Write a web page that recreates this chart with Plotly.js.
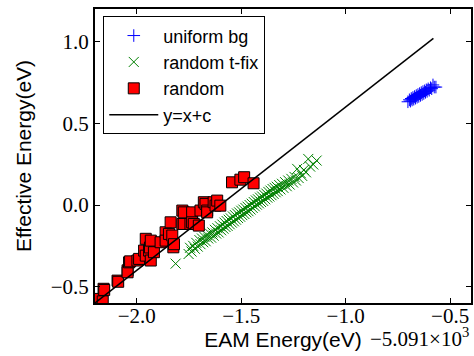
<!DOCTYPE html>
<html>
<head>
<meta charset="utf-8">
<script src="https://cdn.plot.ly/plotly-3.0.1.min.js"></script>
<style>html,body{margin:0;padding:0;background:#fff;}#chart{width:474px;height:356px;}</style>
</head>
<body>
<div id="chart"></div>
<script>
// uniform bg (blue +)
const uniformX = [-0.702,-0.695,-0.690,-0.686,-0.682,-0.678,-0.674,-0.670,-0.666,-0.662,-0.658,-0.654,-0.650,-0.646,-0.642,-0.638,-0.634,-0.630,-0.626,-0.622,-0.618,-0.614,-0.610,-0.605,-0.600,-0.594,-0.588,-0.582,-0.576,-0.568];
const uniformY = [0.632,0.644,0.636,0.652,0.643,0.658,0.648,0.664,0.654,0.670,0.660,0.676,0.665,0.682,0.671,0.688,0.677,0.694,0.683,0.699,0.690,0.705,0.696,0.711,0.703,0.718,0.712,0.735,0.722,0.722];

// random t-fix (green x)
const tfixX = [-1.814,-1.752,-1.745,-1.738,-1.730,-1.722,-1.715,-1.708,-1.700,-1.695,-1.688,-1.682,-1.676,-1.670,-1.664,-1.658,-1.650,-1.644,-1.638,-1.632,-1.626,-1.620,-1.614,-1.608,-1.602,-1.596,-1.590,-1.585,-1.580,-1.575,-1.570,-1.565,-1.560,-1.555,-1.550,-1.545,-1.540,-1.535,-1.530,-1.525,-1.520,-1.515,-1.510,-1.505,-1.500,-1.495,-1.490,-1.485,-1.480,-1.475,-1.470,-1.465,-1.460,-1.455,-1.450,-1.445,-1.440,-1.435,-1.430,-1.425,-1.420,-1.415,-1.410,-1.405,-1.400,-1.395,-1.390,-1.385,-1.380,-1.375,-1.370,-1.365,-1.360,-1.355,-1.350,-1.345,-1.340,-1.335,-1.330,-1.325,-1.318,-1.312,-1.305,-1.298,-1.290,-1.282,-1.275,-1.268,-1.260,-1.252,-1.245,-1.238,-1.232,-1.225,-1.215,-1.208,-1.200,-1.190,-1.179,-1.170,-1.155,-1.139];
const tfixY = [-0.359,-0.300,-0.262,-0.285,-0.250,-0.268,-0.232,-0.255,-0.215,-0.240,-0.205,-0.228,-0.196,-0.222,-0.185,-0.205,-0.175,-0.200,-0.168,-0.188,-0.152,-0.175,-0.142,-0.168,-0.130,-0.155,-0.120,-0.145,-0.108,-0.135,-0.098,-0.128,-0.090,-0.118,-0.082,-0.108,-0.070,-0.100,-0.062,-0.090,-0.052,-0.080,-0.045,-0.072,-0.035,-0.062,-0.028,-0.055,-0.018,-0.045,-0.010,-0.038,0.000,-0.028,0.008,-0.018,0.018,-0.008,0.028,0.002,0.035,0.010,0.045,0.018,0.052,0.025,0.062,0.035,0.070,0.045,0.080,0.052,0.088,0.060,0.098,0.068,0.105,0.078,0.112,0.085,0.122,0.095,0.130,0.105,0.140,0.115,0.150,0.125,0.160,0.138,0.172,0.150,0.221,0.165,0.195,0.178,0.215,0.200,0.282,0.235,0.248,0.272];

// random (red squares)
const randX = [-2.180,-2.163,-2.159,-2.156,-2.092,-2.089,-2.044,-2.044,-2.037,-2.032,-1.997,-1.989,-1.965,-1.957,-1.957,-1.941,-1.937,-1.933,-1.933,-1.918,-1.886,-1.862,-1.862,-1.846,-1.838,-1.830,-1.825,-1.822,-1.782,-1.782,-1.775,-1.775,-1.743,-1.735,-1.735,-1.727,-1.703,-1.695,-1.679,-1.671,-1.663,-1.663,-1.632,-1.623,-1.615,-1.600,-1.544,-1.504,-1.486,-1.441];
const randY = [-0.575,-0.590,-0.513,-0.520,-0.463,-0.470,-0.400,-0.412,-0.351,-0.345,-0.340,-0.330,-0.279,-0.207,-0.310,-0.279,-0.260,-0.218,-0.340,-0.289,-0.228,-0.167,-0.218,-0.177,-0.106,-0.187,-0.259,-0.240,-0.034,-0.116,-0.116,-0.045,-0.116,-0.045,-0.106,-0.116,-0.126,-0.034,0.017,0.007,-0.034,-0.045,0.017,-0.004,0.027,-0.004,0.139,0.155,0.170,0.133];

// reference line y = x + c
const lineX = [-2.2, -0.58];
const lineC = 1.6;
const lineY = lineX.map(v => v + lineC);

const tickVals = [-2.0, -1.5, -1.0, -0.5];
const tickText = ['\u22122.0', '\u22121.5', '\u22121.0', '\u22120.5'];
const yTickVals = [-0.5, 0.0, 0.5, 1.0];
const yTickText = ['\u22120.5', '0.0', '0.5', '1.0'];

const serif = 'Liberation Serif, Times New Roman, serif';
const sans = 'Liberation Sans, Arial, sans-serif';

const traces = [
  {x: uniformX, y: uniformY, name: 'uniform bg', type: 'scatter', mode: 'markers',
   marker: {symbol: 'cross-thin', size: 9, color: '#0000ff', line: {color: '#0000ff', width: 1}}},
  {x: tfixX, y: tfixY, name: 'random t-fix', type: 'scatter', mode: 'markers',
   marker: {symbol: 'x-thin', size: 10, color: '#008000', line: {color: '#008000', width: 1}}},
  {x: randX, y: randY, name: 'random', type: 'scatter', mode: 'markers',
   marker: {symbol: 'square', size: 11, color: '#ff0000', line: {color: '#000000', width: 1}}},
  {x: lineX, y: lineY, name: 'y=x+c', type: 'scatter', mode: 'lines',
   line: {color: '#000000', width: 1.5}}
];

const axisCommon = {
  showline: true, linecolor: '#000', linewidth: 2, mirror: 'ticks',
  ticks: 'inside', ticklen: 5, tickwidth: 1, tickcolor: '#000',
  showgrid: false, zeroline: false,
  tickfont: {family: serif, size: 21, color: '#000'}
};

const layout = {
  width: 474, height: 356,
  margin: {l: 95, r: 3, t: 9, b: 53},
  paper_bgcolor: '#fff', plot_bgcolor: '#fff',
  showlegend: true,
  legend: {x: 0.022, y: 0.975, xanchor: 'left', yanchor: 'top',
    bgcolor: '#fff', bordercolor: '#000', borderwidth: 1,
    font: {family: sans, size: 18, color: '#000'}, itemwidth: 49, tracegroupgap: 0},
  xaxis: Object.assign({}, axisCommon, {
    range: [-2.2, -0.4], tickvals: tickVals, ticktext: tickText, ticklabelstandoff: -7,
    title: {text: 'EAM Energy(eV)', font: {family: sans, size: 21, color: '#000'}, standoff: 0}
  }),
  yaxis: Object.assign({}, axisCommon, {
    range: [-0.6, 1.2], tickvals: yTickVals, ticktext: yTickText,
    title: {text: 'Effective Energy(eV)', font: {family: sans, size: 21, color: '#000'}, standoff: 13}
  }),
  annotations: [{
    xref: 'paper', yref: 'paper', x: 1.0, y: -0.116, xanchor: 'right', yanchor: 'middle',
    text: '\u22125.091\u00d710<sup>3</sup>', showarrow: false,
    font: {family: serif, size: 21, color: '#000'}
  }]
};

Plotly.newPlot('chart', traces, layout, {displayModeBar: false, staticPlot: true});
</script>
</body>
</html>
